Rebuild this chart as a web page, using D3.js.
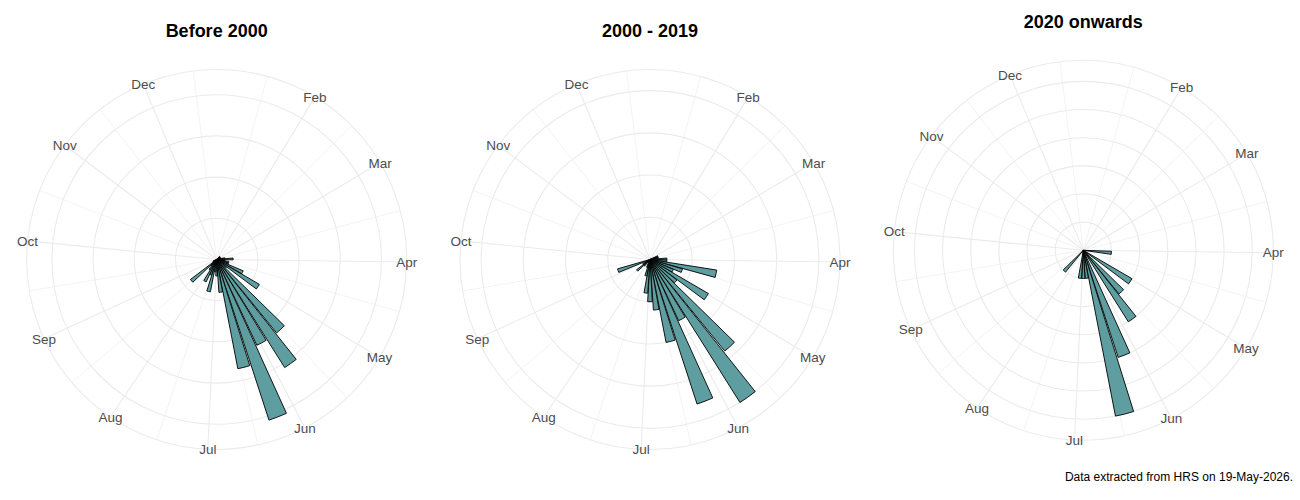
<!DOCTYPE html>
<html>
<head>
<meta charset="utf-8">
<script src="https://cdn.jsdelivr.net/npm/d3@7"></script>
<style>
  body { margin: 0; background: #fff; }
  svg { display: block; font-family: "Liberation Sans", Arial, sans-serif; }
</style>
</head>
<body>
<div id="chart"></div>
<script>
// week of the year (bar centres) and weekly counts for each period
const weeks = [1, 2, 3, 4, 5, 6, 7, 8, 9, 10, 11, 12, 13, 14, 15, 16, 17, 18, 19, 20,
  21, 22, 23, 24, 25, 26, 27, 28, 29, 30, 31, 32, 33, 34, 35, 36, 37, 38, 39, 40,
  41, 42, 43, 44, 45, 46, 47, 48, 49, 50, 51]

const before2000 = [0, 0, 0, 0, 0, 0, 1, 1, 1, 1, 1, 2, 4, 2, 3, 3, 7, 12, 3, 23,
  31, 23, 41, 27, 8, 4, 3, 8, 4, 6, 3, 2, 8, 1, 1, 0, 0, 0, 0, 0,
  0, 0, 0, 0, 0, 0, 0, 0, 0, 0, 0]

const from2000to2019 = [0, 0, 0, 0, 0, 0, 0, 0, 0, 1, 1, 1, 2, 2, 8, 4, 3, 8, 4, 14,
  20, 8, 18, 10, 6, 5, 4, 2, 1, 0, 0, 1, 2, 1, 0, 4, 0, 0, 0, 0,
  0, 0, 0, 0, 0, 0, 0, 0, 0, 0, 0]

const from2020 = [0, 0, 0, 0, 0, 0, 0, 0, 0, 0, 0, 0, 0, 1, 0, 0, 0, 2, 0, 2,
  3, 0, 4, 6, 1, 1, 1, 0, 0, 0, 0, 1, 0, 0, 0, 0, 0, 0, 0, 0,
  0, 0, 0, 0, 0, 0, 0, 0, 0, 0, 0]

const panelTitles = ['Before 2000', '2000 - 2019', '2020 onwards']

// month labels (Jan falls just outside the scale range, so it is not shown)
const monthNames = ['Feb', 'Mar', 'Apr', 'May', 'Jun', 'Jul', 'Aug', 'Sep', 'Oct', 'Nov', 'Dec']
const monthStartDay = [31, 59, 90, 120, 151, 181, 212, 243, 273, 304, 334]
const monthMidDay = [15.5, 45, 74.5, 105, 135.5, 166, 196.5, 227.5, 258, 288.5, 319, 349.5]

const caption = 'Data extracted from HRS on 19-May-2026.'

const W = 1300, H = 500
const outerR = 190
const rMax = outerR * 0.4 / 0.45   // ggplot's polar: data to 0.4, labels at 0.45
const firstWeekDay = 3.35          // day of year where week 1 is centred
const barWidth = 0.9

const dayToWeek = d => 1 + (d - firstWeekDay) / 7

const svg = d3.select('#chart').append('svg')
    .attr('width', W)
    .attr('height', H)

const theta = d3.scaleLinear()
    .domain([weeks[0] - barWidth / 2, weeks[weeks.length - 1] + barWidth / 2])
    .range([0, 2 * Math.PI])

const panels = [
    { title: panelTitles[0], values: before2000, cy: 259.5, titleY: 37 },
    { title: panelTitles[1], values: from2000to2019, cy: 259.5, titleY: 37 },
    { title: panelTitles[2], values: from2020, cy: 250.3, titleY: 28 }
]

const panelW = W / 3
const arc = d3.arc().innerRadius(0)

panels.forEach((p, i) => {
    const cx = panelW * i + panelW / 2

    const r = d3.scaleLinear()
        .domain([0, d3.max(p.values)])
        .range([0, rMax])

    const g = svg.append('g')
        .attr('transform', 'translate(' + cx + ',' + p.cy + ')')

    // minor spokes
    g.selectAll('line.minor')
        .data(monthMidDay)
        .join('line')
        .attr('class', 'minor')
        .attr('x1', 0).attr('y1', 0)
        .attr('x2', d => outerR * Math.sin(theta(dayToWeek(d))))
        .attr('y2', d => -outerR * Math.cos(theta(dayToWeek(d))))
        .attr('stroke', '#EBEBEB')
        .attr('stroke-width', 0.6)

    // major spokes
    g.selectAll('line.major')
        .data(monthStartDay)
        .join('line')
        .attr('class', 'major')
        .attr('x1', 0).attr('y1', 0)
        .attr('x2', d => outerR * Math.sin(theta(dayToWeek(d))))
        .attr('y2', d => -outerR * Math.cos(theta(dayToWeek(d))))
        .attr('stroke', '#EBEBEB')
        .attr('stroke-width', 1.1)

    // circles at the radial breaks plus the outer ring
    const rings = r.ticks(5).filter(t => t > 0).map(t => r(t)).concat([outerR])
    g.selectAll('circle.ring')
        .data(rings)
        .join('circle')
        .attr('class', 'ring')
        .attr('r', d => d)
        .attr('fill', 'none')
        .attr('stroke', '#EBEBEB')
        .attr('stroke-width', 1.1)

    // bars
    const rows = weeks.map((w, j) => ({ week: w, value: p.values[j] })).filter(d => d.value > 0)
    g.selectAll('path.bar')
        .data(rows)
        .join('path')
        .attr('class', 'bar')
        .attr('d', d => arc({
            outerRadius: r(d.value),
            startAngle: theta(d.week - barWidth / 2),
            endAngle: theta(d.week + barWidth / 2)
        }))
        .attr('fill', '#5F9EA0')
        .attr('stroke', '#000')
        .attr('stroke-width', 0.9)

    // month labels
    g.selectAll('text.month')
        .data(monthStartDay)
        .join('text')
        .attr('class', 'month')
        .attr('x', d => outerR * Math.sin(theta(dayToWeek(d))))
        .attr('y', d => -outerR * Math.cos(theta(dayToWeek(d))))
        .attr('dy', '0.35em')
        .attr('text-anchor', 'middle')
        .attr('font-size', 13.5)
        .attr('fill', '#4D4D4D')
        .text((d, j) => monthNames[j])

    // panel title
    svg.append('text')
        .attr('x', cx)
        .attr('y', p.titleY)
        .attr('text-anchor', 'middle')
        .attr('font-size', 18)
        .attr('font-weight', 'bold')
        .attr('fill', '#000')
        .text(p.title)
})

svg.append('text')
    .attr('x', 1293)
    .attr('y', 481)
    .attr('text-anchor', 'end')
    .attr('font-size', 12)
    .attr('fill', '#000')
    .text(caption)
</script>
</body>
</html>
